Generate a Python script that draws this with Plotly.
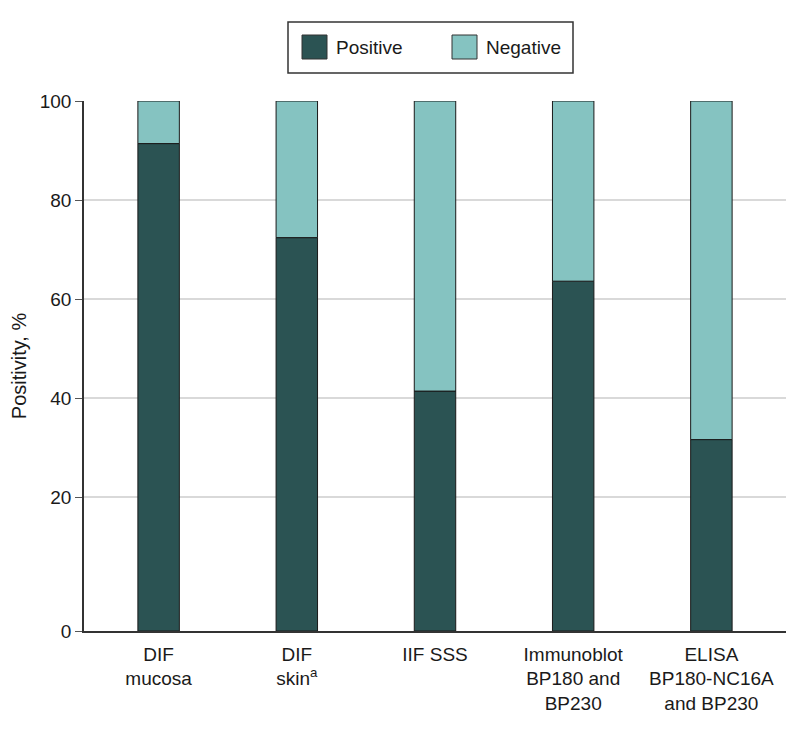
import plotly.graph_objects as go

categories = ["DIF<br>mucosa", "DIF<br>skin<sup>a</sup>", "IIF SSS",
              "Immunoblot<br>BP180 and<br>BP230", "ELISA<br>BP180-NC16A<br>and BP230"]
positive = [91.4, 72.4, 41.4, 63.6, 31.6]
negative = [100 - v for v in positive]
ytick_vals = [20, 40, 60, 80, 100]
ytick_labels = ["20", "40", "60", "80", "100"]

AXIS_MIN = -7.07  # reference axis has a gap below 20 down to the "0" baseline
FONT = "Liberation Sans, Arial, sans-serif"
POS_COL = "#2b5353"
NEG_COL = "#85c3c1"

fig = go.Figure()
fig.add_trace(go.Bar(
    x=categories, y=[v - AXIS_MIN for v in positive], base=[AXIS_MIN] * len(positive),
    name="Positive", marker=dict(color=POS_COL, line=dict(color="#1a1a1a", width=1)),
    width=0.30, showlegend=False))
fig.add_trace(go.Bar(
    x=categories, y=negative, base=positive,
    name="Negative", marker=dict(color=NEG_COL, line=dict(color="#1a1a1a", width=1)),
    width=0.30, showlegend=False))

fig.update_layout(
    width=798, height=731,
    margin=dict(l=76, r=20, t=93, b=108),
    paper_bgcolor="white", plot_bgcolor="white",
    font=dict(family=FONT, size=19, color="#1a1a1a"),
    barmode="overlay",
    xaxis=dict(range=[-0.54, 4.54], showline=True, linecolor="#333333", linewidth=1.5,
               ticks="", showgrid=False, tickfont=dict(size=19, family=FONT),
               ticklabelstandoff=5, automargin=False),
    yaxis=dict(range=[AXIS_MIN, 100], tickvals=[AXIS_MIN] + ytick_vals,
               ticktext=["0"] + ytick_labels, showline=True, linecolor="#333333",
               linewidth=1.5, ticks="outside", ticklen=7, tickcolor="#555555",
               ticklabelstandoff=0,
               showgrid=True, gridcolor="#d9d9d9", gridwidth=2, zeroline=False,
               title=dict(text="Positivity, %", standoff=20,
                          font=dict(size=20, family=FONT, color="#1a1a1a")),
               tickfont=dict(size=19, family=FONT, color="#1a1a1a"), automargin=False),
)

# Legend box drawn manually to match reference swatch size
def px_to_paper_x(px):
    return (px - 84) / 702

def px_to_paper_y(py):
    return (631 - py) / 530

fig.add_shape(type="rect", xref="paper", yref="paper",
              x0=px_to_paper_x(288), x1=px_to_paper_x(573),
              y0=px_to_paper_y(73), y1=px_to_paper_y(22),
              line=dict(color="#333333", width=1.5), fillcolor="white")
for name, col, x0, tx in [("Positive", POS_COL, 302, 334), ("Negative", NEG_COL, 452, 484)]:
    fig.add_shape(type="rect", xref="paper", yref="paper",
                  x0=px_to_paper_x(x0), x1=px_to_paper_x(x0 + 25),
                  y0=px_to_paper_y(59), y1=px_to_paper_y(35),
                  line=dict(color="#333333", width=1), fillcolor=col)
    fig.add_annotation(text=name, xref="paper", yref="paper",
                       x=px_to_paper_x(tx), y=px_to_paper_y(47),
                       xanchor="left", yanchor="middle", showarrow=False,
                       font=dict(size=19, family=FONT, color="#1a1a1a"))

fig.write_html("out.html")
